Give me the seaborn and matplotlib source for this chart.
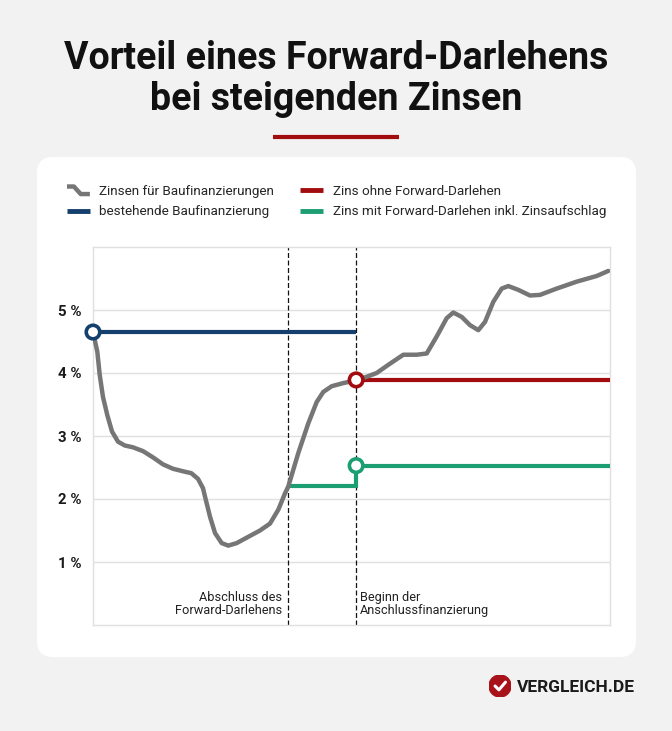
import numpy as np
import pandas as pd
import matplotlib
matplotlib.use("Agg")
import matplotlib.pyplot as plt
import seaborn as sns
from matplotlib.lines import Line2D
from matplotlib.patches import FancyBboxPatch, Circle
from matplotlib.legend_handler import HandlerBase

# ---------------- data ----------------
zins_x = [0, 0.83, 1.30, 1.93, 2.77, 3.68, 4.84, 6.13, 7.74, 9.67, 11.61, 13.54,
          15.47, 17.41, 19.01, 20.31, 21.28, 21.66, 22.63, 23.60, 24.89, 26.17, 27.79,
          30.04, 32.30, 34.24, 35.84, 37.14, 37.78, 39.71, 41.64, 43.27, 44.55, 46.17,
          48.41, 50.68, 52.94, 54.87, 57.12, 60.02, 62.61, 64.55, 66.48, 68.41, 69.69,
          71.32, 72.92, 74.53, 75.82, 77.43, 79.05, 80.33, 82.26, 84.53, 86.46, 89.69,
          93.56, 97.43, 99.67]
zins_y = [4.65, 4.34, 3.97, 3.62, 3.33, 3.07, 2.91, 2.85, 2.82, 2.76, 2.66, 2.55,
          2.48, 2.44, 2.41, 2.32, 2.17, 2.04, 1.72, 1.46, 1.30, 1.26, 1.30,
          1.40, 1.50, 1.61, 1.83, 2.09, 2.20, 2.73, 3.20, 3.54, 3.70, 3.79,
          3.84, 3.88, 3.94, 4.00, 4.13, 4.29, 4.29, 4.31, 4.58, 4.87, 4.96,
          4.89, 4.76, 4.68, 4.81, 5.13, 5.34, 5.38, 5.32, 5.23, 5.24, 5.34,
          5.45, 5.54, 5.62]

bestehend_x = [0, 50.9]
bestehend_y = [4.65, 4.65]
ohne_x = [50.9, 100]
ohne_y = [3.89, 3.89]
mit_x = [37.8, 50.9, 50.9, 100]
mit_y = [2.20, 2.20, 2.53, 2.53]

marker_x = [0, 50.9, 50.9]
marker_y = [4.65, 3.89, 2.53]

dash_x = [37.8, 50.9]
ytick_vals = [1, 2, 3, 4, 5]
ytick_labels = ["1 %", "2 %", "3 %", "4 %", "5 %"]

legend_labels = ["Zinsen für Baufinanzierungen", "bestehende Baufinanzierung",
                 "Zins ohne Forward-Darlehen", "Zins mit Forward-Darlehen inkl. Zinsaufschlag"]
title = "Vorteil eines Forward-Darlehens\nbei steigenden Zinsen"
note_left = "Abschluss des\nForward-Darlehens"
note_right = "Beginn der\nAnschlussfinanzierung"

GRAY = "#767676"
BLUE = "#153f6d"
RED = "#a30c0f"
GREEN = "#1a9e72"
BG = "#f2f2f2"

# ---------------- figure ----------------
sns.set_theme(style="white")
plt.rcParams["font.family"] = ["Roboto", "DejaVu Sans"]

W, H = 672, 731
fig = plt.figure(figsize=(W / 100, H / 100), dpi=100, facecolor=BG)

def fx(px):
    return px / W

def fy(py):
    return 1 - py / H

# white card
card = FancyBboxPatch((0.37, 0.74), 5.99, 5.0,
                      boxstyle="round,pad=0,rounding_size=0.16",
                      transform=fig.dpi_scale_trans, facecolor="white",
                      edgecolor="none", zorder=-5)
fig.patches.append(card)

# title
fig.text(0.5, fy(79), title, ha="center", va="center", fontsize=27,
         fontweight="bold", color="#111111", linespacing=1.12)
fig.add_artist(Line2D([fx(273), fx(399)], [fy(137), fy(137)], color=RED, lw=3,
                      transform=fig.transFigure, solid_capstyle="butt"))

# axes
ax = fig.add_axes([fx(93), fy(625), fx(610) - fx(93), fy(247) - fy(625)])
ax.set_zorder(2)
ax.set_facecolor("white")
ax.set_xlim(0, 100)
ax.set_ylim(0, 6)

df_z = pd.DataFrame({"x": zins_x, "y": zins_y})
df_b = pd.DataFrame({"x": bestehend_x, "y": bestehend_y})
df_o = pd.DataFrame({"x": ohne_x, "y": ohne_y})
df_m = pd.DataFrame({"x": mit_x, "y": mit_y})

sns.lineplot(data=df_b, x="x", y="y", ax=ax, color=BLUE, lw=3.0, estimator=None,
             solid_capstyle="butt", zorder=3)
sns.lineplot(data=df_o, x="x", y="y", ax=ax, color=RED, lw=3.0, estimator=None,
             solid_capstyle="butt", zorder=3)
sns.lineplot(data=df_m, x="x", y="y", ax=ax, color=GREEN, lw=3.0, estimator=None,
             solid_capstyle="butt", solid_joinstyle="miter", zorder=3)
sns.lineplot(data=df_z, x="x", y="y", ax=ax, color=GRAY, lw=3.2, estimator=None,
             solid_capstyle="round", solid_joinstyle="round", zorder=4)

for xv in dash_x:
    ax.axvline(xv, color="#111111", lw=0.9, ls=(0, (4, 2)), zorder=2)

ax.scatter(marker_x, marker_y, s=95, facecolor="white",
           edgecolor=[BLUE, RED, GREEN], linewidth=2.6, zorder=6, clip_on=False)

ax.set_yticks(ytick_vals)
ax.set_yticklabels(ytick_labels, fontsize=10.8, fontweight="bold", color="#1a1a1a")
ax.set_xticks([])
ax.tick_params(axis="y", length=0, pad=8)
ax.grid(axis="y", color="#e0e0e0", lw=1)
ax.set_axisbelow(True)
for s in ax.spines.values():
    s.set_color("#e0e0e0")
    s.set_linewidth(1)
ax.set_xlabel("")
ax.set_ylabel("")

ax.text(dash_x[0] - 1.2, 0.12, note_left, ha="right", va="bottom", fontsize=9.2,
        color="#222222", linespacing=1.0)
ax.text(dash_x[1] + 0.8, 0.12, note_right, ha="left", va="bottom", fontsize=9.2,
        color="#222222", linespacing=1.0)

# legend
class StepHandler(HandlerBase):
    def create_artists(self, legend, orig_handle, xdescent, ydescent, width, height,
                       fontsize, trans):
        x0, y0 = -xdescent, -ydescent
        xs = [x0, x0 + 0.3 * width, x0 + 0.6 * width, x0 + width]
        ys = [y0 + height * 0.9, y0 + height * 0.9, y0 + height * 0.1, y0 + height * 0.1]
        ln = Line2D(xs, ys, color=GRAY, lw=3.2, solid_joinstyle="round",
                    solid_capstyle="butt", transform=trans)
        return [ln]

h_gray = Line2D([], [], color=GRAY, lw=3.2)
h_blue = Line2D([], [], color=BLUE, lw=3.5, solid_capstyle="butt")
h_red = Line2D([], [], color=RED, lw=3.5, solid_capstyle="butt")
h_green = Line2D([], [], color=GREEN, lw=3.5, solid_capstyle="butt")
fig.legend([h_gray, h_blue, h_red, h_green], legend_labels, ncol=2,
           loc="upper left", bbox_to_anchor=(fx(67), fy(185)), frameon=False,
           fontsize=9.7, handlelength=1.7, handletextpad=0.7, columnspacing=1.95,
           labelspacing=0.55, borderpad=0, borderaxespad=0,
           handler_map={h_gray: StepHandler()})

# logo
lax = fig.add_axes([fx(489), fy(697), fx(22), 22 / H])
lax.set_xlim(-1, 1)
lax.set_ylim(-1, 1)
lax.set_aspect("equal")
lax.axis("off")
lax.add_patch(Circle((0, 0), 1, color="#a8121a"))
lax.plot([-0.45, -0.1, 0.5], [0.0, -0.35, 0.35], color="white", lw=2.2,
         solid_capstyle="round", solid_joinstyle="round")
fig.text(fx(517), fy(687), "VERGLEICH.DE", ha="left", va="center", fontsize=12.5,
         fontweight="bold", color="#1a1a1a")

fig.savefig("out.png", dpi=100, facecolor=BG)
